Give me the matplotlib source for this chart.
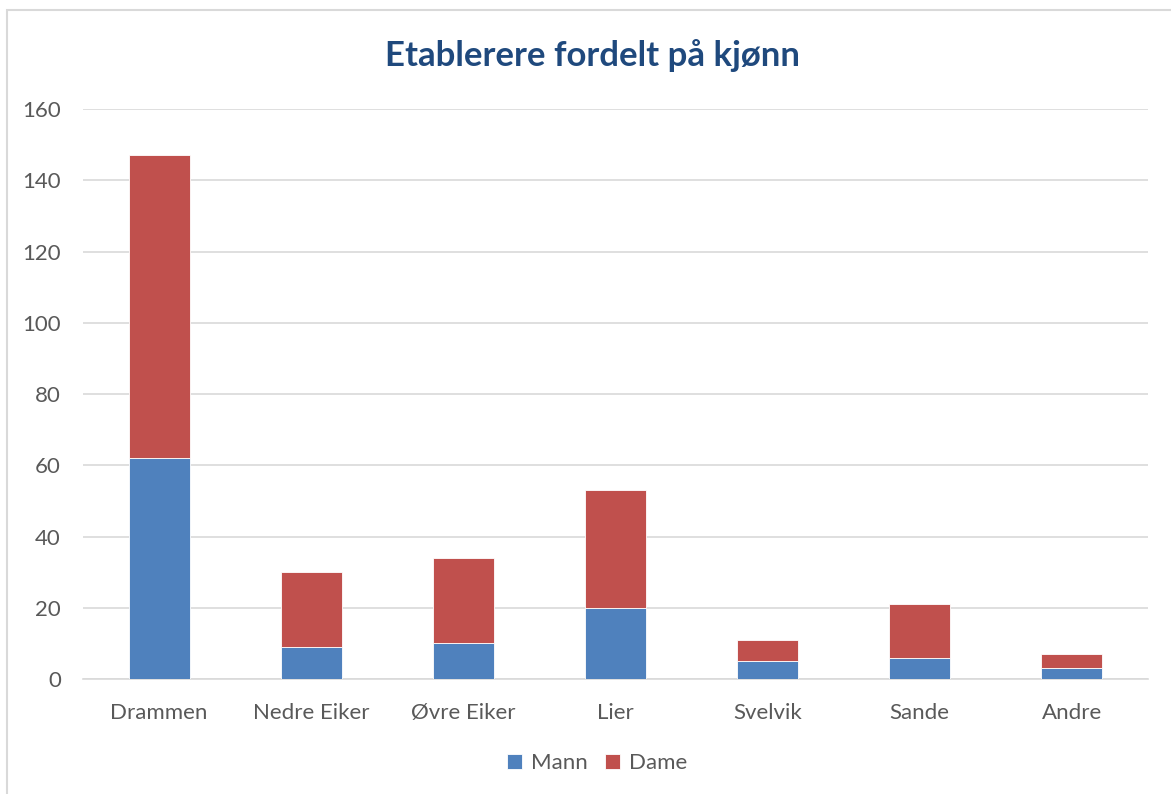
import matplotlib.pyplot as plt
from matplotlib.patches import Rectangle

kommuner = ["Drammen", "Nedre Eiker", "Øvre Eiker", "Lier", "Svelvik", "Sande", "Andre"]
mann = [62, 9, 10, 20, 5, 6, 3]
dame = [85, 21, 24, 33, 6, 15, 4]
yticks = [0, 20, 40, 60, 80, 100, 120, 140, 160]

plt.rcParams['font.family'] = ['Lato', 'DejaVu Sans']

fig = plt.figure(figsize=(11.71, 7.94), dpi=100)
ax = fig.add_axes([0.0709, 0.1448, 0.9093, 0.7179])

# chart frame
fig.patches.append(Rectangle((7 / 1171, -0.1), 1.2, 1.1 - 10 / 794,
                             transform=fig.transFigure, fill=False,
                             edgecolor='#D9D9D9', linewidth=1.5))

x = range(len(kommuner))
ax.bar(x, mann, width=0.4, color='#4F81BD', edgecolor='white', linewidth=0.6, label='Mann', zorder=3)
ax.bar(x, dame, width=0.4, bottom=mann, color='#C0504D', edgecolor='white', linewidth=0.6, label='Dame', zorder=3)

ax.set_xlim(-0.5, len(kommuner) - 0.5)
ax.set_ylim(0, 160)
ax.set_yticks(yticks)
ax.set_xticks(list(x))
ax.set_xticklabels(kommuner)
ax.tick_params(axis='both', length=0, labelsize=16, colors='#595959')
ax.tick_params(axis='x', pad=17)
ax.tick_params(axis='y', pad=16)
ax.grid(axis='y', color='#D9D9D9', linewidth=1.2, zorder=0)
for s in ['top', 'right', 'left']:
    ax.spines[s].set_visible(False)
ax.spines['bottom'].set_color('#D9D9D9')
ax.spines['bottom'].set_linewidth(1.2)

fig.text(0.5056, 0.93, "Etablerere fordelt på kjønn", ha='center', va='center',
         fontsize=25, fontweight='bold', color='#1F497D')

fig.legend(loc='center', bbox_to_anchor=(0.51, 0.039), ncol=2, frameon=False,
           fontsize=16, handlelength=0.65, handleheight=0.65, handletextpad=0.4,
           columnspacing=0.8, labelcolor='#595959')

fig.savefig('out.png', dpi=100)
